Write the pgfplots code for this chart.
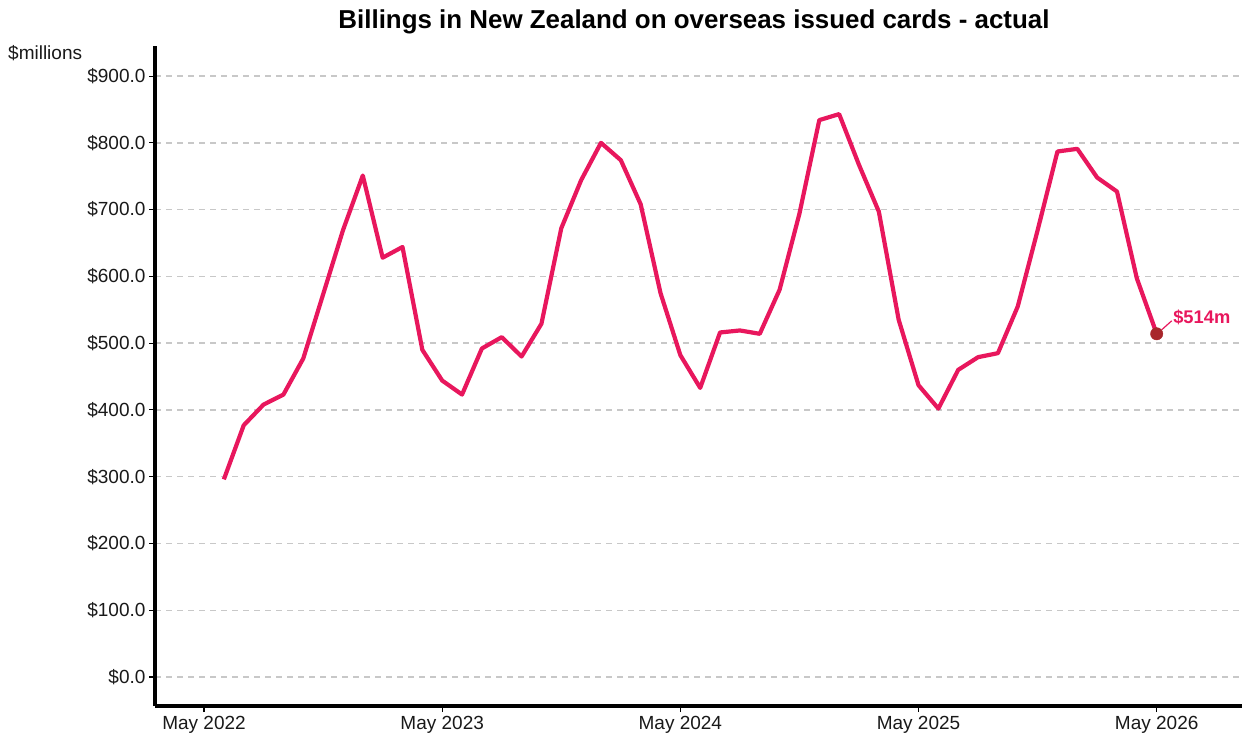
\documentclass[border=0pt]{standalone}
\usepackage{fontspec}
\setmainfont{Liberation Sans}
\usepackage{pgfplots}
\pgfplotsset{compat=1.18}
\definecolor{linepink}{HTML}{E8175D}
\definecolor{dotred}{HTML}{A8262B}
\definecolor{gridgray}{HTML}{C8C8C8}
\pgfplotstableread{
m v
1 296
2 377
3 408
4 423
5 477
6 573
7 669
8 751
9 628
10 644
11 490
12 444
13 423
14 492
15 509
16 480
17 529
18 672
19 744
20 800
21 774
22 708
23 575
24 482
25 433
26 516
27 519
28 514
29 580
30 694
31 834
32 843
33 767
34 697
35 535
36 437
37 402
38 460
39 479
40 485
41 555
42 669
43 787
44 791
45 748
46 727
47 597
48 514
}\datatable
\begin{document}
\begin{tikzpicture}
\begin{axis}[
  at={(155pt,34pt)}, anchor=south west,
  scale only axis, width=1087pt, height=660pt,
  xmin=-2.47, xmax=52.3, ymin=-43.4, ymax=945,
  axis x line*=bottom, axis y line*=left,
  axis line style={black, line width=3.3pt},
  xtick={0,12,24,36,48},
  xticklabels={May 2022,May 2023,May 2024,May 2025,May 2026},
  ytick={0,100,200,300,400,500,600,700,800,900},
  yticklabels={\$0.0,\$100.0,\$200.0,\$300.0,\$400.0,\$500.0,\$600.0,\$700.0,\$800.0,\$900.0},
  tick align=outside, major tick length=6pt,
  tick style={black, line width=1.1pt},
  ticklabel style={font=\fontsize{19}{22}\selectfont, text=black!90},
  xticklabel style={yshift=-1pt},
  ymajorgrids, grid style={gridgray, line width=1.4pt, dash pattern=on 6pt off 5pt},
  clip=false,
]
\addplot[linepink, line width=4.2pt, line join=round] table[x=m,y=v]{\datatable};
\addplot[only marks, mark=*, mark size=6.2pt, mark options={fill=dotred, draw=dotred}] coordinates {(48,514)};
\draw[linepink, line width=1.2pt] (axis cs:48,514) ++(5pt,4pt) -- ++(10pt,9pt)
  node[anchor=south west, inner sep=1pt, yshift=-6pt, font=\fontsize{18.3}{21}\selectfont\bfseries, text=linepink] {\$514m};
\end{axis}
\node[anchor=west, font=\fontsize{19}{22}\selectfont, text=black!90, inner sep=0pt] at (8pt,687pt) {\$millions};
\node[font=\fontsize{25.9}{30}\selectfont\bfseries, inner sep=0pt] at (694pt,718pt) {Billings in New Zealand on overseas issued cards - actual};
\pgfresetboundingbox
\path (0,0) rectangle (1246pt,740pt);
\end{tikzpicture}
\end{document}
